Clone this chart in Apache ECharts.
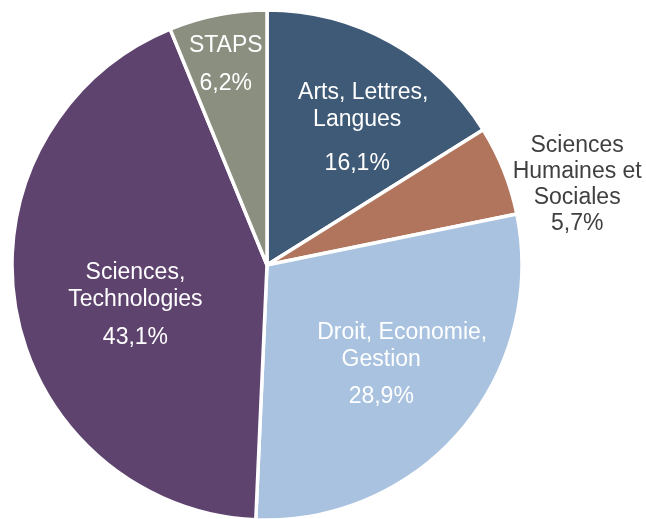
<!DOCTYPE html>
<html>
<head>
<meta charset="utf-8">
<script src="https://cdn.jsdelivr.net/npm/echarts@6/dist/echarts.min.js"></script>
<style>
  html, body { margin: 0; padding: 0; background: #fff; }
  #chart { width: 646px; height: 519px; }
</style>
</head>
<body>
<div id="chart"></div>
<script>
// filières, dans l'ordre des aiguilles d'une montre depuis midi
const categories = [
  "Arts, Lettres, Langues",
  "Sciences Humaines et Sociales",
  "Droit, Economie, Gestion",
  "Sciences, Technologies",
  "STAPS"
];
const labelLines = [
  ["Arts, Lettres,", "Langues"],
  ["Sciences", "Humaines et", "Sociales"],
  ["Droit, Economie,", "Gestion"],
  ["Sciences,", "Technologies"],
  ["STAPS"]
];
const shares = [16.1, 5.7, 28.9, 43.1, 6.2];
const colors = ["#3f5a77", "#b1745d", "#a8c2df", "#5f436f", "#8a8f7f"];

// réglages d'étiquettes (position et style), par part
const labelTweak = [
  { dx: 27, dy: -14, pct: "p1", first: "na", color: "#fff" },
  { dx: 189, dy: -32, pct: "p0", first: "n0", color: "#404040" },
  { dx: 15, dy: 20, pct: "p2", first: "nd", color: "#fff" },
  { dx: -3, dy: 23, pct: "p2", first: "n0", color: "#fff" },
  { dx: -16, dy: -67, pct: "p2", first: "n0", color: "#fff" }
];

const fmt = v => v.toFixed(1).replace(".", ",") + "%";

const mChart = echarts.init(document.getElementById("chart"));

const data = categories.map((name, i) => {
  const t = labelTweak[i];
  const lines = labelLines[i].map((l, k) => "{" + (k === 0 ? t.first : "n0") + "|" + l + "}");
  const c = t.color;
  const lh = i === 1 ? 26 : 27;
  const base = { color: c, fontSize: 23, fontFamily: "Liberation Sans" };
  return {
    name: name,
    value: shares[i],
    itemStyle: { color: colors[i] },
    label: {
      formatter: lines.join("\n") + "\n{" + t.pct + "|" + fmt(shares[i]) + "}",
      rich: {
        n0: Object.assign({ lineHeight: lh }, base),
        na: Object.assign({ lineHeight: lh, padding: [0, 0, 0, 12] }, base),
        nd: Object.assign({ lineHeight: lh, padding: [0, 0, 0, 42] }, base),
        p0: Object.assign({ lineHeight: 26 }, base),
        p1: Object.assign({ lineHeight: 61 }, base),
        p2: Object.assign({ lineHeight: 48 }, base)
      }
    }
  };
});

mChart.setOption({
  animation: false,
  backgroundColor: "#fff",
  series: [
    {
      type: "pie",
      center: [267, 265],
      radius: [0, 255],
      startAngle: 90,
      clockwise: true,
      avoidLabelOverlap: false,
      itemStyle: { borderColor: "#fff", borderWidth: 3.5 },
      label: { show: true, position: "inside", align: "center" },
      labelLine: { show: false },
      labelLayout: function (params) {
        const t = labelTweak[params.dataIndex];
        return { dx: t.dx, dy: t.dy };
      },
      emphasis: { disabled: true },
      data: data
    }
  ]
});
</script>
</body>
</html>
